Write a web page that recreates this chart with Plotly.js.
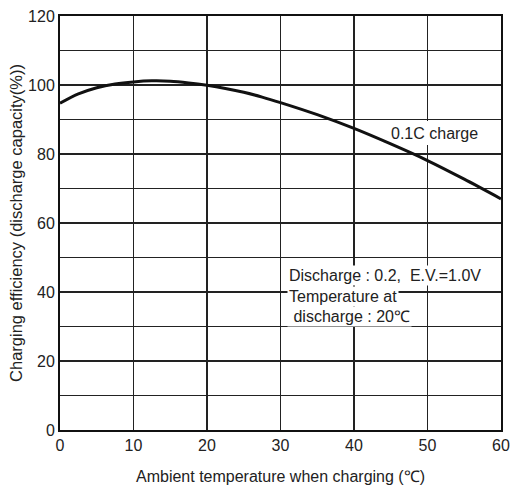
<!DOCTYPE html>
<html><head><meta charset="utf-8">
<script src="https://cdn.plot.ly/plotly-3.0.1.min.js"></script>
<style>html,body{margin:0;padding:0;background:#fff}#chart{width:516px;height:488px}</style>
</head><body><div id="chart"></div>
<script>
const temps = [0, 2.5, 5, 7.5, 10, 12.5, 15, 17.5, 20, 22.5, 25, 27.5, 30, 35, 40, 45, 50, 55, 60];
const efficiency = [94.7, 97.4, 99.2, 100.3, 100.9, 101.2, 101.1, 100.6, 99.9, 99.0, 97.9, 96.5, 94.9, 91.4, 87.4, 82.9, 78.1, 72.7, 67.0];
const seriesLabel = "0.1C charge";
const noteLines = ["Discharge : 0.2,  E.V.=1.0V", "Temperature at", " discharge : 20\u2103"];
const xTitle = "Ambient temperature when charging (\u2103)";
const yTitle = "Charging efficiency (discharge capacity(%))";

const fam = "Liberation Sans, Arial, sans-serif";
const font = {family: fam, size: 16, color: "#222"};
const data = [{
  x: temps, y: efficiency, type: "scatter", mode: "lines",
  line: {color: "#111", width: 3, shape: "spline", smoothing: 0.8},
  hoverinfo: "skip", showlegend: false
}];
const annotations = [
  {x: 50.9, y: 86, xref: "x", yref: "y", text: seriesLabel, showarrow: false,
   font: font, borderpad: 2}
];
const noteY = [44.9, 38.8, 33.0];
noteLines.forEach((t, i) => {
  annotations.push({x: 30.95, y: noteY[i], xref: "x", yref: "y", text: t,
    showarrow: false, xanchor: "left", bgcolor: "#fff", font: font,
    borderpad: 1});
});
// white patch behind the curve label (hides gridlines only, not the curve)
const shapes = [{type: "rect", xref: "x", yref: "y", x0: 45.2, x1: 56.8, y0: 82.6, y1: 89.6,
  fillcolor: "#fff", line: {width: 0}, layer: "between"}];
const axisCommon = {
  showline: true, linecolor: "#111", linewidth: 2, mirror: true,
  showgrid: true, gridcolor: "#222", gridwidth: 1.6,
  zeroline: false, ticks: "", tickfont: font, fixedrange: true
};
const layout = {
  width: 516, height: 488,
  margin: {l: 60, r: 15, t: 16, b: 58},
  paper_bgcolor: "#fff", plot_bgcolor: "#fff",
  font: font,
  xaxis: {...axisCommon, range: [0, 60], dtick: 10, tick0: 0,
    title: {text: xTitle, font: font, standoff: 18}},
  yaxis: {...axisCommon, range: [0, 120], dtick: 20, tick0: 0,
    minor: {dtick: 10, showgrid: true, gridcolor: "#222", gridwidth: 1.6},
    title: {text: yTitle, font: {family: fam, size: 16.5, color: "#222"}, standoff: 1}},
  annotations: annotations,
  shapes: shapes
};
Plotly.newPlot("chart", data, layout, {staticPlot: true});
</script></body></html>
